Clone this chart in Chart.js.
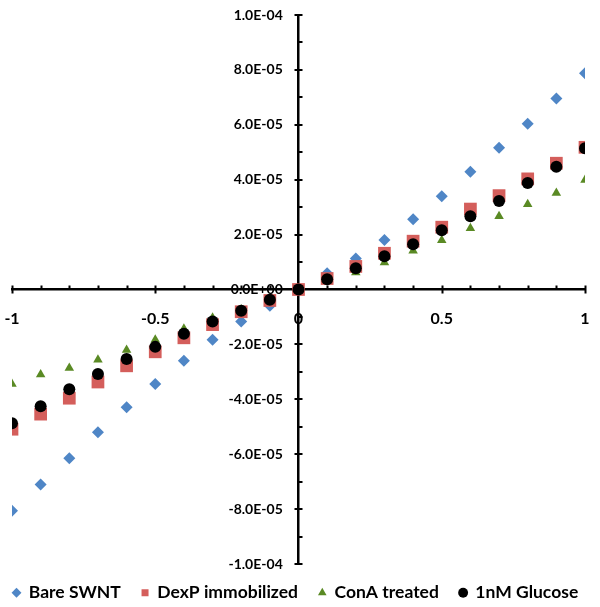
<!DOCTYPE html>
<html>
<head>
<meta charset="utf-8">
<script src="https://cdn.jsdelivr.net/npm/chart.js@4/dist/chart.umd.min.js"></script>
<style>
  html, body { margin: 0; padding: 0; background: #fff; }
  #wrap { width: 600px; height: 607px; }
</style>
</head>
<body>
<div id="wrap"><canvas id="c" width="600" height="607"></canvas></div>
<script>
const voltages = [-1, -0.9, -0.8, -0.7, -0.6, -0.5, -0.4, -0.3, -0.2, -0.1, 0, 0.1, 0.2, 0.3, 0.4, 0.5, 0.6, 0.7, 0.8, 0.9, 1];
const bareSWNT = [-8.06e-5, -7.1e-5, -6.15e-5, -5.2e-5, -4.29e-5, -3.44e-5, -2.6e-5, -1.83e-5, -1.17e-5, -5.9e-6, 0, 5.9e-6, 1.13e-5, 1.8e-5, 2.56e-5, 3.4e-5, 4.29e-5, 5.16e-5, 6.04e-5, 6.96e-5, 7.88e-5];
const dexPImmobilized = [-5.09e-5, -4.54e-5, -3.96e-5, -3.37e-5, -2.78e-5, -2.27e-5, -1.76e-5, -1.28e-5, -8.1e-6, -4.0e-6, 0, 4.0e-6, 8.4e-6, 1.32e-5, 1.76e-5, 2.27e-5, 2.93e-5, 3.42e-5, 4.03e-5, 4.6e-5, 5.18e-5];
const conATreated = [-3.44e-5, -3.1e-5, -2.86e-5, -2.56e-5, -2.2e-5, -1.83e-5, -1.43e-5, -1.03e-5, -7.3e-6, -3.5e-6, 0, 3.3e-6, 6.2e-6, 9.8e-6, 1.41e-5, 1.79e-5, 2.23e-5, 2.67e-5, 3.11e-5, 3.52e-5, 3.99e-5];
const glucose1nM = [-4.87e-5, -4.25e-5, -3.63e-5, -3.08e-5, -2.53e-5, -2.09e-5, -1.61e-5, -1.17e-5, -7.7e-6, -3.7e-6, 0, 3.7e-6, 7.7e-6, 1.21e-5, 1.65e-5, 2.16e-5, 2.67e-5, 3.22e-5, 3.88e-5, 4.47e-5, 5.15e-5];
const seriesNames = ['Bare SWNT', 'DexP immobilized', 'ConA treated', '1nM Glucose'];

const toXY = arr => voltages.map((v, i) => ({ x: v, y: arr[i] }));
const FONT = 'Lato, "Liberation Sans", sans-serif';

function fmtExp(v) {
  const parts = v.toExponential(1).split('e');
  const sign = parts[1][0];
  const digits = parts[1].slice(1).padStart(2, '0');
  return parts[0].toUpperCase() + 'E' + sign + digits;
}

// Excel-like tick marks: major ticks cross the axis, minor ticks on one side
const crossTicks = {
  id: 'crossTicks',
  beforeDatasetsDraw(chart) {
    const { ctx, scales: { x, y } } = chart;
    const x0 = x.getPixelForValue(0);
    const y0 = y.getPixelForValue(0);
    ctx.save();
    ctx.strokeStyle = '#000';
    ctx.lineWidth = 2;
    ctx.beginPath();
    x.ticks.forEach(t => {
      const px = Math.round(x.getPixelForValue(t.value)) + 0.5;
      const major = Math.round(t.value * 10) % 5 === 0;
      ctx.moveTo(px, y0 - 4);
      ctx.lineTo(px, major ? y0 + 4 : y0);
    });
    y.ticks.forEach(t => {
      const py = Math.round(y.getPixelForValue(t.value));
      const major = Math.round(t.value / 1e-5) % 2 === 0;
      ctx.moveTo(major ? x0 - 4 : x0, py);
      ctx.lineTo(x0 + 4, py);
    });
    ctx.stroke();
    ctx.restore();
  }
};

new Chart(document.getElementById('c'), {
  type: 'scatter',
  data: {
    datasets: [
      { label: seriesNames[0], data: toXY(bareSWNT), pointStyle: 'rectRot', pointRadius: 6, backgroundColor: '#4F86C6', borderColor: '#4F86C6', borderWidth: 0, order: 4 },
      { label: seriesNames[1], data: toXY(dexPImmobilized), pointStyle: 'rect', pointRadius: 9, backgroundColor: '#D45E5B', borderColor: '#D45E5B', borderWidth: 0, order: 3 },
      { label: seriesNames[2], data: toXY(conATreated), pointStyle: 'triangle', pointRadius: 5.5, backgroundColor: '#5A8A24', borderColor: '#5A8A24', borderWidth: 0, order: 2 },
      { label: seriesNames[3], data: toXY(glucose1nM), pointStyle: 'circle', pointRadius: 6, backgroundColor: '#000000', borderColor: '#000000', borderWidth: 0, order: 1 }
    ]
  },
  plugins: [crossTicks],
  options: {
    responsive: false,
    animation: false,
    layout: { padding: 0 },
    plugins: {
      tooltip: { enabled: false },
      legend: {
        position: 'bottom',
        maxHeight: 43,
        title: { display: true, text: ' ', font: { size: 6, lineHeight: 1 }, padding: { top: 0, bottom: 2 } },
        labels: {
          usePointStyle: true,
          boxWidth: 7,
          boxHeight: 7,
          padding: 12,
          color: '#000',
          font: { family: FONT, size: 17.5, weight: 'bold' },
          generateLabels: chart => Chart.defaults.plugins.legend.labels.generateLabels(chart)
            .map(item => Object.assign(item, { text: item.text + '\u2002' })),
          sort: (a, b) => a.datasetIndex - b.datasetIndex
        }
      }
    },
    scales: {
      x: {
        type: 'linear',
        position: { y: 0 },
        min: -1, max: 1,
        border: { color: '#000', width: 2.5 },
        grid: { display: false, drawTicks: false },
        afterFit: scale => { scale.paddingLeft = 12; scale.paddingRight = 15; },
        ticks: {
          stepSize: 0.1,
          autoSkip: false,
          maxRotation: 0,
          padding: 20,
          color: '#000',
          font: { family: FONT, size: 16, weight: 'bold' },
          callback: v => { const n = Math.round(v * 10); return n % 5 === 0 ? String(n / 10) : ''; }
        }
      },
      y: {
        type: 'linear',
        position: { x: 0 },
        min: -1e-4, max: 1e-4,
        border: { color: '#000', width: 2.5 },
        grid: { display: false, drawTicks: false },
        afterFit: scale => { scale.paddingTop = 15; scale.paddingBottom = 0; },
        ticks: {
          stepSize: 1e-5,
          autoSkip: false,
          color: '#000',
          font: { family: FONT, size: 14, weight: 'bold' },
          callback: v => { const n = Math.round(v / 1e-5); return n % 2 === 0 ? fmtExp(n * 1e-5) + '\u2002\u2002\u2009' : ''; }
        }
      }
    }
  }
});
</script>
</body>
</html>
